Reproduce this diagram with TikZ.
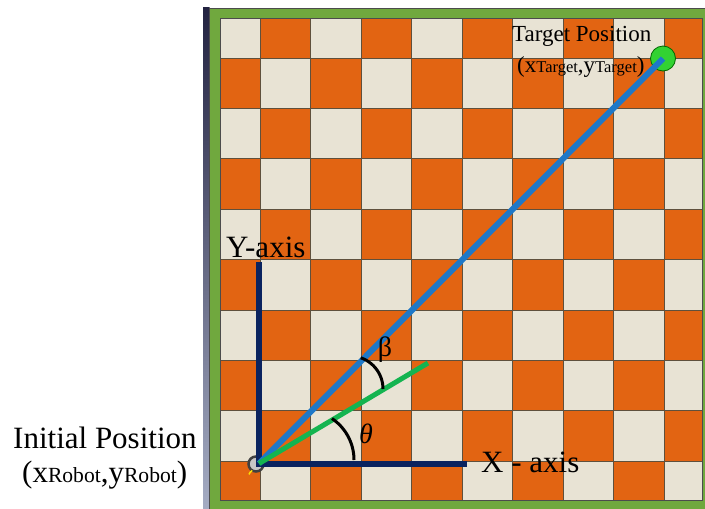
\documentclass[tikz,border=0pt]{standalone}
\usepackage{fontspec}
\setmainfont{Liberation Serif}
\definecolor{cream}{RGB}{232,227,212}
\definecolor{chessorange}{RGB}{226,100,18}
\definecolor{framegreen}{RGB}{112,168,62}
\definecolor{gridline}{RGB}{95,80,60}
\definecolor{axisnavy}{RGB}{10,35,95}
\definecolor{pathblue}{RGB}{30,120,200}
\definecolor{headgreen}{RGB}{20,180,80}
\definecolor{targetgreen}{RGB}{50,210,50}
\definecolor{stripetop}{RGB}{35,35,65}
\definecolor{stripebottom}{RGB}{165,172,195}
\tikzset{
  bigtxt/.style={inner sep=0pt, anchor=base west, font=\fontsize{31}{31}\selectfont},
  midtxt/.style={inner sep=0pt, anchor=base west, font=\fontsize{23}{23}\selectfont},
  greektxt/.style={inner sep=0pt, font=\fontsize{28}{28}\selectfont},
  axisline/.style={draw=axisnavy, line width=6pt, line join=miter},
  pathline/.style={draw=pathblue, line width=6pt},
  headline/.style={draw=headgreen, line width=5pt},
  anglearc/.style={draw=black, line width=3pt},
  targetdot/.style={circle, minimum size=25pt, inner sep=0pt, fill=targetgreen, draw=green!40!black, line width=0.8pt},
  robotdot/.style={circle, minimum size=15pt, inner sep=0pt, fill=gray!45, draw=black!75, line width=2.5pt}
}
\begin{document}
\begin{tikzpicture}[x=1pt,y=-1pt]
\useasboundingbox (0,0) rectangle (705,509);
\fill[white] (0,0) rectangle (705,509);
% frame
\shade[top color=stripetop, bottom color=stripebottom] (203,7) rectangle (209.5,509);
\filldraw[fill=framegreen, draw=black!70, line width=0.8pt] (209.5,8) rectangle (706,511);
\fill[cream] (220,18) rectangle (702,500);
% orange squares
\foreach \i in {0,...,9}{
  \foreach \j in {0,...,9}{
    \pgfmathtruncatemacro\cpar{mod(\i+\j,2)}
    \ifnum\cpar=1
      \pgfmathsetmacro\xa{max(220,260+50.5*(\i-1))}
      \pgfmathsetmacro\xb{min(702,260+50.5*\i)}
      \pgfmathsetmacro\ya{max(18,58+50.4*(\j-1))}
      \pgfmathsetmacro\yb{min(500,58+50.4*\j)}
      \fill[chessorange] (\xa,\ya) rectangle (\xb,\yb);
    \fi
  }
}
% grid lines
\foreach \k in {0,...,8}{
  \draw[gridline, line width=0.8pt] ({260+50.5*\k},18) -- ({260+50.5*\k},500);
  \draw[gridline, line width=0.8pt] (220,{58+50.4*\k}) -- (702,{58+50.4*\k});
}
\draw[black!70, line width=0.8pt] (220,18) rectangle (702,500);

% robot marker
\node[robotdot] (robot) at (256,464) {};
\draw[yellow!80!orange, line width=1.5pt] ([shift={(120:7.5)}]robot.center) arc[start angle=120, end angle=160, radius=7.5pt];
\draw[yellow!80!orange, line width=1.5pt] ([shift={(-20:7.5)}]robot.center) arc[start angle=-20, end angle=-60, radius=7.5pt];

% coordinates
\coordinate (o) at (259,463.5);
\coordinate (ytop) at (259,262);
\coordinate (xend) at (467,463.5);
\coordinate (heading) at (428,363);

% axes
\draw[axisline] (ytop) -- (o) -- (xend);

% target
\node[targetdot] (target) at (663,58.5) {};

% lines
\draw[pathline] (o) -- (target.center);
\draw[headline] (o) -- (heading);

% angle arcs
\draw[anglearc] plot[domain=0:56, samples=30, variable=\t] ({304+50*cos(\t)},{460-50*sin(\t)});
\draw[anglearc] plot[domain=0:71, samples=30, variable=\t] ({350+33*cos(\t)},{389-33*sin(\t)});
\node[greektxt] (theta) at (366,434) {\textit{θ}};
\node[greektxt] (beta) at (385,350) {β};

% labels
\node[bigtxt] (ylab) at (226,257) {Y-axis};
\node[bigtxt] (xlab) at (481,472) {X - axis};
\node[bigtxt] (initlab) at (13,448) {Initial Position};
\node[bigtxt] (initcoord) at (22,482) {(x{\fontsize{21.6}{21.6}\selectfont Robot},y{\fontsize{21.6}{21.6}\selectfont Robot})};
\node[midtxt] (targlab) at (512,41) {Target Position};
\node[midtxt] (targcoord) at (517,72) {(x{\fontsize{16.5}{16.5}\selectfont Target},y{\fontsize{16.5}{16.5}\selectfont Target})};
\end{tikzpicture}
\end{document}
